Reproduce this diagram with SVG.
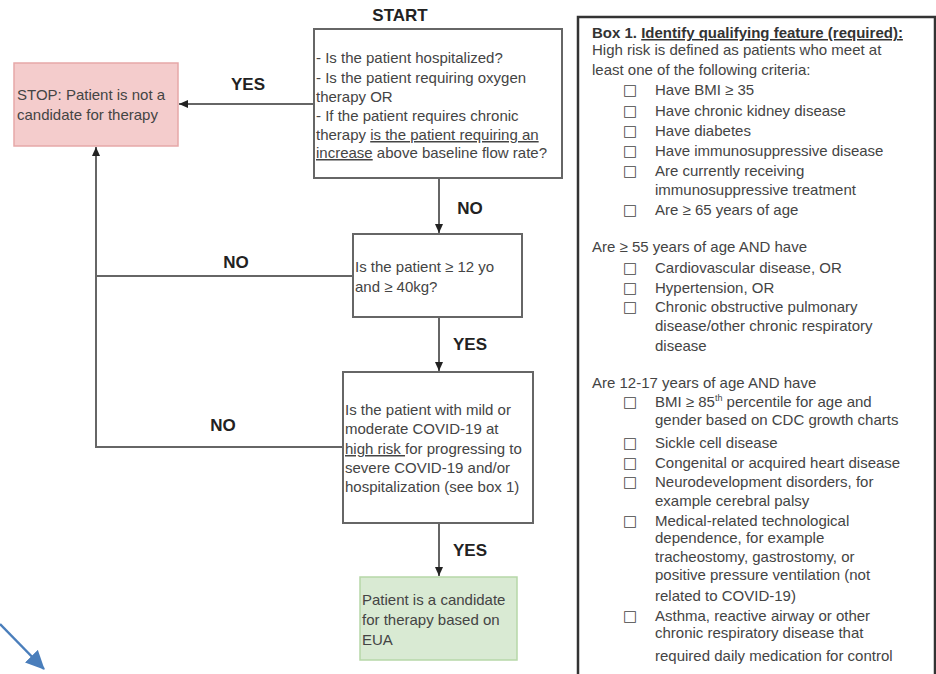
<svg xmlns="http://www.w3.org/2000/svg" width="936" height="674" viewBox="0 0 936 674">
<style>
.t{font-family:"Liberation Sans",Arial,sans-serif;font-size:15px;fill:#444}
.b{font-family:"Liberation Sans",Arial,sans-serif;font-size:17px;font-weight:bold;fill:#222}
.box{fill:#fff;stroke:#666;stroke-width:2}
.ln{fill:none;stroke:#666;stroke-width:2}
.u{text-decoration:underline}
.bl{font-family:"DejaVu Sans",sans-serif;font-size:15px;fill:#444}
</style>
<defs>
<marker id="ah" markerWidth="10" markerHeight="10" refX="9" refY="5" orient="auto" markerUnits="userSpaceOnUse">
<path d="M0,1 L9,5 L0,9 Z" fill="#222"/>
</marker>
<marker id="bh" markerWidth="20" markerHeight="20" refX="18" refY="9" orient="auto" markerUnits="userSpaceOnUse">
<path d="M0,0 L19,9 L0,18 Z" fill="#4a7ebb"/>
</marker>
</defs>

<text class="b" x="400" y="21" text-anchor="middle">START</text>

<g id="q1">
<rect class="box" x="314" y="29" width="248" height="149"/>
<text class="t" x="316" y="63">- Is the patient hospitalized?</text>
<text class="t" x="316" y="83">- Is the patient requiring oxygen</text>
<text class="t" x="316" y="102">therapy OR</text>
<text class="t" x="316" y="121">-  If the patient requires chronic</text>
<text class="t" x="316" y="140">therapy <tspan class="u">is the patient requiring an</tspan></text>
<text class="t" x="316" y="158"><tspan class="u">increase</tspan> above baseline flow rate?</text>
</g>

<g id="stop">
<rect x="14" y="63" width="164" height="83" fill="#f4cccc" stroke="#e6a8a8" stroke-width="1.5"/>
<text class="t" x="17" y="100">STOP: Patient is not a</text>
<text class="t" x="17" y="120">candidate for therapy</text>
</g>

<g id="q2">
<rect class="box" x="353" y="234" width="169" height="83"/>
<text class="t" x="355" y="272">Is the patient  ≥ 12 yo</text>
<text class="t" x="355" y="292">and ≥ 40kg?</text>
</g>

<g id="q3">
<rect class="box" x="343" y="372" width="190" height="151"/>
<text class="t" x="345" y="415">Is the patient with mild or</text>
<text class="t" x="345" y="434">moderate COVID-19 at</text>
<text class="t" x="345" y="454"><tspan class="u">high risk </tspan>for progressing to</text>
<text class="t" x="345" y="473">severe COVID-19 and/or</text>
<text class="t" x="345" y="492">hospitalization (see box 1)</text>
</g>

<g id="yes-end">
<rect x="360" y="577" width="157" height="83" fill="#d9ead3" stroke="#b6d7a8" stroke-width="1.5"/>
<text class="t" x="362" y="605">Patient is a candidate</text>
<text class="t" x="362" y="625">for therapy based on</text>
<text class="t" x="362" y="645">EUA</text>
</g>

<g id="box1">
<rect x="578" y="17" width="357" height="700" fill="#fff" stroke="#333" stroke-width="2.5"/>
<text class="t" x="592" y="38"><tspan font-weight="bold" fill="#333">Box 1. </tspan><tspan font-weight="bold" fill="#333" class="u">Identify qualifying feature (required):</tspan></text>
<text class="t" x="592" y="55">High risk is defined as patients who meet at</text>
<text class="t" x="592" y="75">least one of the following criteria:</text>
<text class="bl" x="623" y="95">□</text><text class="t" x="655" y="95">Have BMI ≥ 35</text>
<text class="bl" x="623" y="116">□</text><text class="t" x="655" y="116">Have chronic kidney disease</text>
<text class="bl" x="623" y="136">□</text><text class="t" x="655" y="136">Have diabetes</text>
<text class="bl" x="623" y="156">□</text><text class="t" x="655" y="156">Have immunosuppressive disease</text>
<text class="bl" x="623" y="176">□</text><text class="t" x="655" y="176">Are currently receiving</text>
<text class="t" x="655" y="195">immunosuppressive treatment</text>
<text class="bl" x="623" y="215">□</text><text class="t" x="655" y="215">Are ≥ 65 years of age</text>

<text class="t" x="592" y="252">Are ≥ 55 years of age AND have</text>
<text class="bl" x="623" y="273">□</text><text class="t" x="655" y="273">Cardiovascular disease, OR</text>
<text class="bl" x="623" y="293">□</text><text class="t" x="655" y="293">Hypertension, OR</text>
<text class="bl" x="623" y="312">□</text><text class="t" x="655" y="312">Chronic obstructive pulmonary</text>
<text class="t" x="655" y="331">disease/other chronic respiratory</text>
<text class="t" x="655" y="351">disease</text>

<text class="t" x="592" y="388">Are 12-17 years of age AND have</text>
<text class="bl" x="623" y="407">□</text><text class="t" x="655" y="407">BMI ≥ 85<tspan font-size="9" dy="-6">th</tspan><tspan dy="6"> percentile for age and</tspan></text>
<text class="t" x="655" y="425">gender based on CDC growth charts</text>
<text class="bl" x="623" y="448">□</text><text class="t" x="655" y="448">Sickle cell disease</text>
<text class="bl" x="623" y="468">□</text><text class="t" x="655" y="468">Congenital or acquired heart disease</text>
<text class="bl" x="623" y="487">□</text><text class="t" x="655" y="487">Neurodevelopment disorders, for</text>
<text class="t" x="655" y="506">example cerebral palsy</text>
<text class="bl" x="623" y="526">□</text><text class="t" x="655" y="526">Medical-related technological</text>
<text class="t" x="655" y="543">dependence, for example</text>
<text class="t" x="655" y="562">tracheostomy, gastrostomy, or</text>
<text class="t" x="655" y="580">positive pressure ventilation (not</text>
<text class="t" x="655" y="601">related to COVID-19)</text>
<text class="bl" x="623" y="621">□</text><text class="t" x="655" y="621">Asthma, reactive airway or other</text>
<text class="t" x="655" y="638">chronic respiratory disease that</text>
<text class="t" x="655" y="661">required daily medication for control</text>
</g>

<g id="connectors">
<line class="ln" x1="314" y1="104" x2="179" y2="104" marker-end="url(#ah)"/>
<line class="ln" x1="439" y1="178" x2="439" y2="233" marker-end="url(#ah)"/>
<polyline class="ln" points="353,276 96,276 96,147" marker-end="url(#ah)"/>
<line class="ln" x1="439" y1="317" x2="439" y2="371" marker-end="url(#ah)"/>
<polyline class="ln" points="343,447 96,447 96,276"/>
<line class="ln" x1="439" y1="523" x2="439" y2="576" marker-end="url(#ah)"/>
<line x1="0" y1="624" x2="44" y2="669" stroke="#4a7ebb" stroke-width="2.5" marker-end="url(#bh)"/>
<text class="b" x="248" y="90" text-anchor="middle">YES</text>
<text class="b" x="470" y="214" text-anchor="middle">NO</text>
<text class="b" x="236" y="268" text-anchor="middle">NO</text>
<text class="b" x="470" y="350" text-anchor="middle">YES</text>
<text class="b" x="223" y="431" text-anchor="middle">NO</text>
<text class="b" x="470" y="556" text-anchor="middle">YES</text>
</g>
</svg>
